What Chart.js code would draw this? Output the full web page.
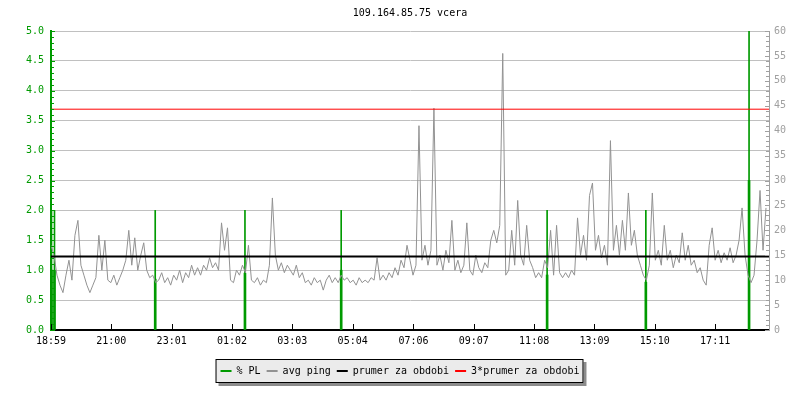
<!DOCTYPE html>
<html>
<head>
<meta charset="utf-8">
<script src="https://cdn.jsdelivr.net/npm/chart.js@4.4.1/dist/chart.umd.min.js"></script>
<style>
  html, body { margin: 0; padding: 0; background: #fff; }
  canvas { display: block; }
</style>
</head>
<body>
<canvas id="graf" width="800" height="400"></canvas>
<script>
// --- data ---
const titleText = '109.164.85.75 vcera';
const xTickLabels = ['18:59', '21:00', '23:01', '01:02', '03:03', '05:04', '07:06', '09:07', '11:08', '13:09', '15:10', '17:11'];
const xTickMinutes = [0, 121, 242, 363, 484, 605, 727, 848, 969, 1090, 1211, 1332];
const leftTickLabels = ['0.0', '0.5', '1.0', '1.5', '2.0', '2.5', '3.0', '3.5', '4.0', '4.5', '5.0'];
const rightTickLabels = ['0', '5', '10', '15', '20', '25', '30', '35', '40', '45', '50', '55', '60'];

// avg ping [ms], one value every 6 minutes from 18:59
const pingStepMin = 6;
const pingMs = [
  17, 15, 11, 9, 7.5, 11, 14, 10, 19, 22, 13, 11, 9, 7.5, 9, 10.5, 19, 12, 18, 10,
  9.5, 11, 9, 10.5, 12, 14, 20, 13, 18.5, 12, 15, 17.5, 12, 10.5, 11, 9.5, 10, 11.5, 9.5, 10.5,
  9, 11, 10, 12, 9.5, 11.5, 10.5, 13, 11, 12.5, 11, 13, 12, 14.5, 12.5, 13.5, 12, 21.5, 16, 20.5,
  10, 9.5, 12, 11, 13, 11.5, 17, 10, 9.5, 10.5, 9, 10, 9.5, 13, 26.5, 15, 12, 13.5, 11.5, 13,
  12, 11, 13, 10.5, 11.5, 9.5, 10, 9, 10.5, 9.5, 10, 8, 10, 11, 9.5, 10.5, 9.5, 11, 10, 10.5,
  9.5, 10, 9, 10.5, 9.5, 10, 9.5, 10.5, 10, 14.5, 10, 11, 10, 11.5, 10.5, 12.5, 11, 14, 12.5, 17,
  14, 11, 13, 41, 14, 17, 13, 16, 44.5, 13, 15, 12, 16, 13.5, 22, 12, 14, 11.5, 13, 21.5,
  12, 11, 15, 12.5, 11.5, 13.5, 12.5, 18, 20, 17.5, 21, 55.5, 11, 12, 20, 13, 26, 15, 13, 21,
  14, 12.5, 10.5, 11.5, 10.5, 14, 12.5, 20, 11, 21, 11.5, 10.5, 11.5, 10.5, 12, 11, 22.5, 15, 19, 14,
  27, 29.5, 16, 19, 14.5, 17, 13, 38, 16, 21, 15, 22, 16, 27.5, 17, 20, 15, 13, 11, 10,
  13, 27.5, 14, 16, 13, 21, 14, 16, 12.5, 15, 13.5, 19.5, 14, 17, 13, 14, 11.5, 12.5, 10, 9,
  17, 20.5, 14, 16, 13.5, 15.5, 14, 16.5, 13.5, 15, 18, 24.5, 15, 11, 9.5, 11, 18, 28, 16, 24.5
];

// packet loss [%]
const plMinutes = [1, 7, 209, 389, 582, 995, 1193, 1400];
const plValues = [1.0, 1.0, 0.85, 0.95, 1.0, 0.92, 0.8, 2.5];
const plMaxValues = [2.0, 2.0, 2.0, 2.0, 2.0, 2.0, 2.0, 5.0];

const prumerMs = 14.77;
const triPrumerMs = 44.31;

// --- styles ---
const monoFont = { family: "'DejaVu Sans Mono', monospace", size: 10, weight: 'normal' };
const green = '#009a00';
const gridGray = '#c0c0c0';
const labelGray = '#a0a0a0';

const tickMarks = {
  id: 'tickMarks',
  afterDatasetsDraw(chart) {
    const { ctx, chartArea: a, scales } = chart;
    ctx.save();
    ctx.lineWidth = 1;
    ctx.strokeStyle = green;
    for (let k = 0; k <= 50; k++) {
      const py = Math.round(scales.y.getPixelForValue(k / 10)) + 0.5;
      ctx.beginPath();
      ctx.moveTo(a.left, py);
      ctx.lineTo(a.left + (k % 5 === 0 ? 4 : 3), py);
      ctx.stroke();
    }
    ctx.strokeStyle = labelGray;
    for (let k = 0; k <= 60; k++) {
      const py = Math.round(scales.y2.getPixelForValue(k)) + 0.5;
      ctx.beginPath();
      ctx.moveTo(a.right, py);
      ctx.lineTo(a.right - (k % 5 === 0 ? 4 : 3), py);
      ctx.stroke();
    }
    ctx.strokeStyle = '#000';
    xTickMinutes.forEach(m => {
      const px = Math.round(scales.x.getPixelForValue(m)) + 0.5;
      ctx.beginPath();
      ctx.moveTo(px, a.bottom);
      ctx.lineTo(px, a.bottom - 6);
      ctx.stroke();
    });
    ctx.restore();
  }
};

const legendFrame = {
  id: 'legendFrame',
  beforeDraw(chart) {
    const boxes = chart.legend && chart.legend.legendHitBoxes;
    if (!boxes || !boxes.length) return;
    const ctx = chart.ctx;
    const left = Math.min(...boxes.map(b => b.left)) - 5;
    const right = Math.max(...boxes.map(b => b.left + b.width)) + 4;
    const top = boxes[0].top - 7;
    const bottom = boxes[0].top + boxes[0].height + 7;
    ctx.save();
    ctx.fillStyle = '#8c8c8c';
    ctx.fillRect(left + 3, top + 3, right - left, bottom - top);
    ctx.fillStyle = '#ebebeb';
    ctx.fillRect(left, top, right - left, bottom - top);
    ctx.strokeStyle = '#000';
    ctx.lineWidth = 1;
    ctx.strokeRect(left + 0.5, top + 0.5, right - left - 1, bottom - top - 1);
    ctx.restore();
  }
};

new Chart(document.getElementById('graf'), {
  type: 'line',
  data: {
    datasets: [
      {
        type: 'bar', label: '% PL', order: 4, yAxisID: 'y', grouped: false,
        data: plMinutes.map((m, i) => ({ x: m, y: plValues[i] })),
        backgroundColor: green, borderColor: green, borderWidth: 0, barThickness: 2
      },
      {
        label: 'avg ping', order: 3, yAxisID: 'y2',
        data: pingMs.map((v, i) => ({ x: i * pingStepMin, y: v })),
        borderColor: '#929292', borderWidth: 1, pointRadius: 0, tension: 0
      },
      {
        label: 'prumer za obdobi', order: 2, yAxisID: 'y2',
        data: [{ x: 0, y: prumerMs }, { x: 1440, y: prumerMs }],
        borderColor: '#000000', borderWidth: 2, pointRadius: 0
      },
      {
        label: '3*prumer za obdobi', order: 1, yAxisID: 'y2',
        data: [{ x: 0, y: triPrumerMs }, { x: 1440, y: triPrumerMs }],
        borderColor: '#ff0000', borderWidth: 1, pointRadius: 0
      },
      {
        type: 'bar', label: 'PL max', order: 5, yAxisID: 'y', grouped: false,
        data: plMinutes.map((m, i) => ({ x: m, y: plMaxValues[i] })),
        backgroundColor: green, borderColor: green, borderWidth: 0, barThickness: 1
      }
    ]
  },
  options: {
    responsive: false,
    animation: false,
    events: [],
    layout: { padding: { top: 0, bottom: 14, left: 0, right: 0 } },
    scales: {
      x: {
        type: 'linear', min: 0, max: 1440, offset: false,
        grid: { display: false, drawTicks: false, offset: false },
        border: { display: true, color: '#000', width: 2 },
        afterBuildTicks: s => { s.ticks = xTickMinutes.map(v => ({ value: v })); },
        afterFit: s => { s.height = 30; },
        ticks: {
          autoSkip: false, maxRotation: 0, padding: 5, color: '#000', font: monoFont,
          callback: (v, i) => xTickLabels[i]
        }
      },
      y: {
        position: 'left', min: 0, max: 5,
        grid: { color: gridGray, drawTicks: false },
        border: { display: true, color: green, width: 2 },
        afterFit: s => { s.width = 51; },
        ticks: {
          stepSize: 0.5, padding: 7, color: green, font: monoFont,
          callback: (v, i) => leftTickLabels[i]
        }
      },
      y2: {
        position: 'right', min: 0, max: 60,
        grid: { display: false, drawTicks: false },
        border: { display: true, color: labelGray, width: 1 },
        afterFit: s => { s.width = 31; },
        ticks: {
          stepSize: 5, padding: 5, color: labelGray, font: monoFont,
          callback: (v, i) => rightTickLabels[i]
        }
      }
    },
    plugins: {
      title: {
        display: true, text: titleText, fullSize: false, color: '#000', font: monoFont,
        padding: { top: 7, bottom: 12 }
      },
      tooltip: { enabled: false },
      legend: {
        position: 'bottom',
        labels: {
          color: '#000', font: monoFont, boxWidth: 11, boxHeight: 2, padding: 6,
          generateLabels: chart => Chart.defaults.plugins.legend.labels.generateLabels(chart)
            .filter(l => l.datasetIndex !== 4)
            .sort((a, b) => a.datasetIndex - b.datasetIndex)
            .map(l => {
              const ds = chart.data.datasets[l.datasetIndex];
              return Object.assign({}, l, { fillStyle: ds.borderColor, strokeStyle: ds.borderColor, lineWidth: 0 });
            })
        }
      }
    }
  },
  plugins: [legendFrame, tickMarks]
});
</script>
</body>
</html>
